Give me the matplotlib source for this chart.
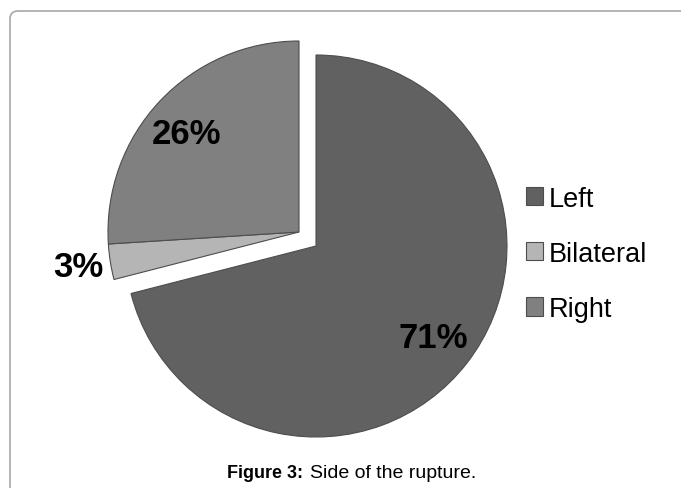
import numpy as np
import matplotlib
matplotlib.use('Agg')
import matplotlib.pyplot as plt
from matplotlib.patches import FancyBboxPatch, Patch

plt.rcParams['font.family'] = ['Liberation Sans', 'DejaVu Sans']

# Data
categories = ['Left', 'Bilateral', 'Right']
percent = [71, 3, 26]
colors = ['#606160', '#b5b5b5', '#808080']
label_dist = [0.78, 1.17, 0.78]

W, H = 681, 489
fig = plt.figure(figsize=(W / 100, H / 100), dpi=100)
ax = fig.add_axes([0, 0, 1, 1])

# pie in pixel-like coordinates (y up)
center = (316, 242)
radius = 191
wedges, _ = ax.pie(percent, colors=colors, startangle=90, counterclock=False,
                   center=center, radius=radius,
                   wedgeprops=dict(edgecolor='#4d4d4d', linewidth=0.8))

# Bilateral and Right pulled out together toward upper left
shift = np.array([-17, 14])
for w in wedges[1:]:
    w.set_center(tuple(np.array(center) + shift))

# percentage labels
for w, p, d in zip(wedges, percent, label_dist):
    mid = np.deg2rad((w.theta1 + w.theta2) / 2)
    if p == 26:
        mid += np.deg2rad(2)
    cx, cy = w.center
    ax.text(cx + d * radius * np.cos(mid), cy + d * radius * np.sin(mid),
            f'{p}%', ha='center', va='center', fontsize=25,
            fontweight='bold', color='black')

ax.set_xlim(0, W)
ax.set_ylim(0, H)
ax.set_aspect('equal')
ax.axis('off')

# legend
handles = [Patch(facecolor=c, edgecolor='#4d4d4d', linewidth=0.8) for c in colors]
fig.legend(handles, categories, loc='upper left',
           bbox_to_anchor=(512 / W, 1 - 173 / H), frameon=False,
           fontsize=19.5, handlelength=0.65, handleheight=0.65,
           handletextpad=0.2, labelspacing=1.08, borderpad=0)

# border frame
frame = FancyBboxPatch((10, -20), 700, 477 + 20,
                       boxstyle='round,pad=0,rounding_size=8',
                       facecolor='none', edgecolor='#a8a8a8', linewidth=1.2,
                       clip_on=False)
ax.add_patch(frame)

# caption
fig.text(227 / W, 1 - 474 / H, 'Figure 3:', fontsize=13, fontweight='bold',
         ha='left', va='center')
fig.text(310 / W, 1 - 474 / H, 'Side of the rupture.', fontsize=14,
         ha='left', va='center')

fig.savefig('out.png', dpi=100)
